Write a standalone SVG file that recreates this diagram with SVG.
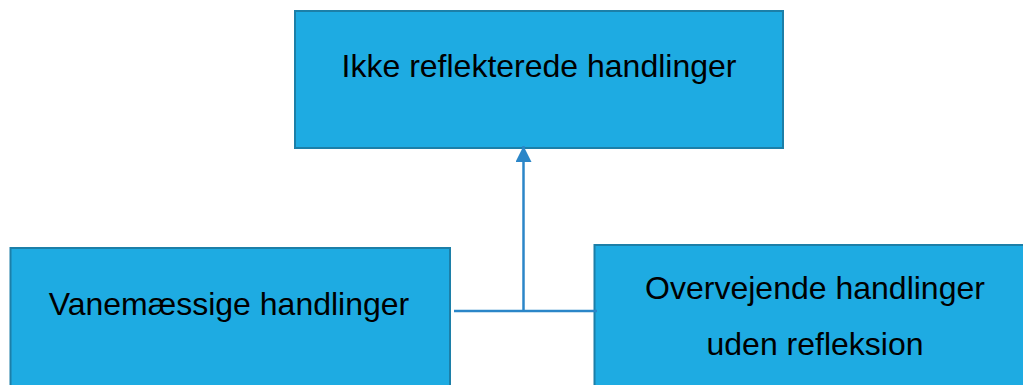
<svg xmlns="http://www.w3.org/2000/svg" width="1023" height="385" viewBox="0 0 1023 385">
  <defs>
    <style>
      .box { fill: #1eabe2; stroke: #1c7fa8; stroke-width: 2; }
      .label { font-family: "Liberation Sans", Arial, sans-serif; font-size: 32px; fill: #000; text-anchor: middle; }
      .link { stroke: #2b86c8; stroke-width: 2.5; fill: none; }
    </style>
    <marker id="arrow" viewBox="0 0 16 16" refX="16" refY="8" markerWidth="16" markerHeight="16" markerUnits="userSpaceOnUse" orient="auto">
      <path d="M0,0 L16,8 L0,16 Z" fill="#2b86c8"/>
    </marker>
  </defs>

  <g id="node-ikke-reflekterede">
    <rect class="box" x="295" y="11" width="488" height="137"/>
    <text class="label" x="539" y="77">Ikke reflekterede handlinger</text>
  </g>

  <g id="node-vanemaessige">
    <rect class="box" x="10.5" y="248" width="439.5" height="150"/>
    <text class="label" x="229" y="315">Vanemæssige handlinger</text>
  </g>

  <g id="node-overvejende">
    <rect class="box" x="594.5" y="245" width="441" height="150"/>
    <text class="label" x="815" y="299">Overvejende handlinger</text>
    <text class="label" x="815" y="355">uden refleksion</text>
  </g>

  <g id="connectors">
    <line class="link" x1="454" y1="311" x2="597" y2="311"/>
    <line class="link" x1="523.5" y1="311" x2="523.5" y2="146" marker-end="url(#arrow)"/>
  </g>
</svg>
